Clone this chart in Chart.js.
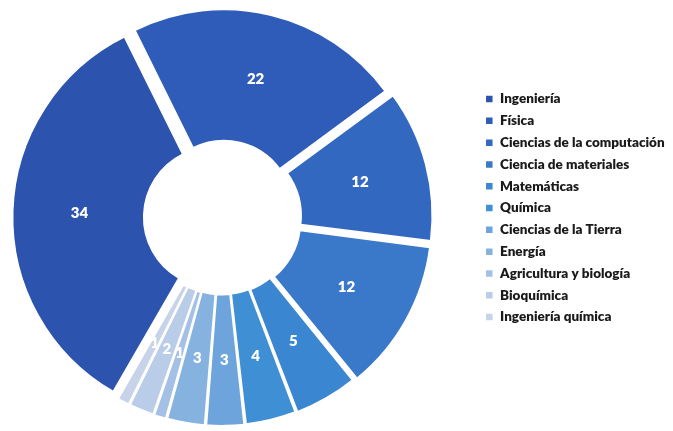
<!DOCTYPE html>
<html>
<head>
<meta charset="utf-8">
<script src="https://cdn.jsdelivr.net/npm/chart.js@4.4.0/dist/chart.umd.min.js"></script>
<style>
  html, body { margin: 0; padding: 0; background: #fff; overflow: hidden; }
  /* canvas is a bit wider than the window and shifted left so the ring sits where the original is */
  #wrap { position: absolute; left: -33px; top: 0; width: 706px; height: 431px; }
</style>
</head>
<body>
<div id="wrap"><canvas id="myChart"></canvas></div>
<script>
const labels = ['Ingeniería', 'Física', 'Ciencias de la computación', 'Ciencia de materiales',
  'Matemáticas', 'Química', 'Ciencias de la Tierra', 'Energía', 'Agricultura y biología',
  'Bioquímica', 'Ingeniería química'];
const values = [34, 22, 12, 12, 5, 4, 3, 3, 1, 2, 1];

const colors = ['#2c53ad', '#2e5cb8', '#3368c1', '#3a78ca', '#3b86d0', '#3f8fd5',
  '#6ea4dc', '#86b2e0', '#a5c0e5', '#b9cce8', '#c6d3e9'];
// exploded slices (chart.js moves an arc by offset/4)
const offsets = [32, 32, 32, 32, 20, 18, 18, 18, 18, 18, 18];

// draw the value in the middle of each slice
const sliceLabels = {
  id: 'sliceLabels',
  afterDatasetsDraw(chart) {
    const ctx = chart.ctx;
    const meta = chart.getDatasetMeta(0);
    ctx.save();
    ctx.fillStyle = '#ffffff';
    ctx.font = '800 15px Lato';
    ctx.textAlign = 'center';
    ctx.textBaseline = 'middle';
    meta.data.forEach((arc, i) => {
      const a = (arc.startAngle + arc.endAngle) / 2;
      const r = (arc.innerRadius + arc.outerRadius) / 2 + 8;
      ctx.fillText(values[i], arc.x + Math.cos(a) * r, arc.y + Math.sin(a) * r);
    });
    ctx.restore();
  }
};

// fixed legend width so the ring and the legend land where they are in the original
const legendWidth = {
  id: 'legendWidth',
  beforeInit(chart) {
    const fit = chart.legend.fit;
    chart.legend.fit = function () {
      fit.call(this);
      this.width = 196;
    };
  }
};

let ctx = document.getElementById('myChart');
let myChart = new Chart(ctx, {
  type: 'doughnut',
  data: {
    labels: labels,
    datasets: [{
      data: values,
      backgroundColor: colors,
      borderColor: '#ffffff',
      borderWidth: 1.5,
      offset: offsets
    }]
  },
  options: {
    responsive: true,
    maintainAspectRatio: false,
    animation: false,
    rotation: -150,
    radius: 200,
    cutout: '34.5%',
    layout: { padding: { top: 4 } },
    plugins: {
      tooltip: { enabled: false },
      legend: {
        position: 'right',
        align: 'start',
        title: {
          display: true,
          text: ' ',
          font: { size: 10, lineHeight: 1 },
          padding: { top: 70, bottom: 0 }
        },
        labels: {
          boxWidth: 8,
          boxHeight: 8,
          padding: 8.3,
          color: '#1a1a1a',
          font: { family: 'Lato', size: 13.5, weight: '800' }
        }
      }
    }
  },
  plugins: [sliceLabels, legendWidth]
});
</script>
</body>
</html>
